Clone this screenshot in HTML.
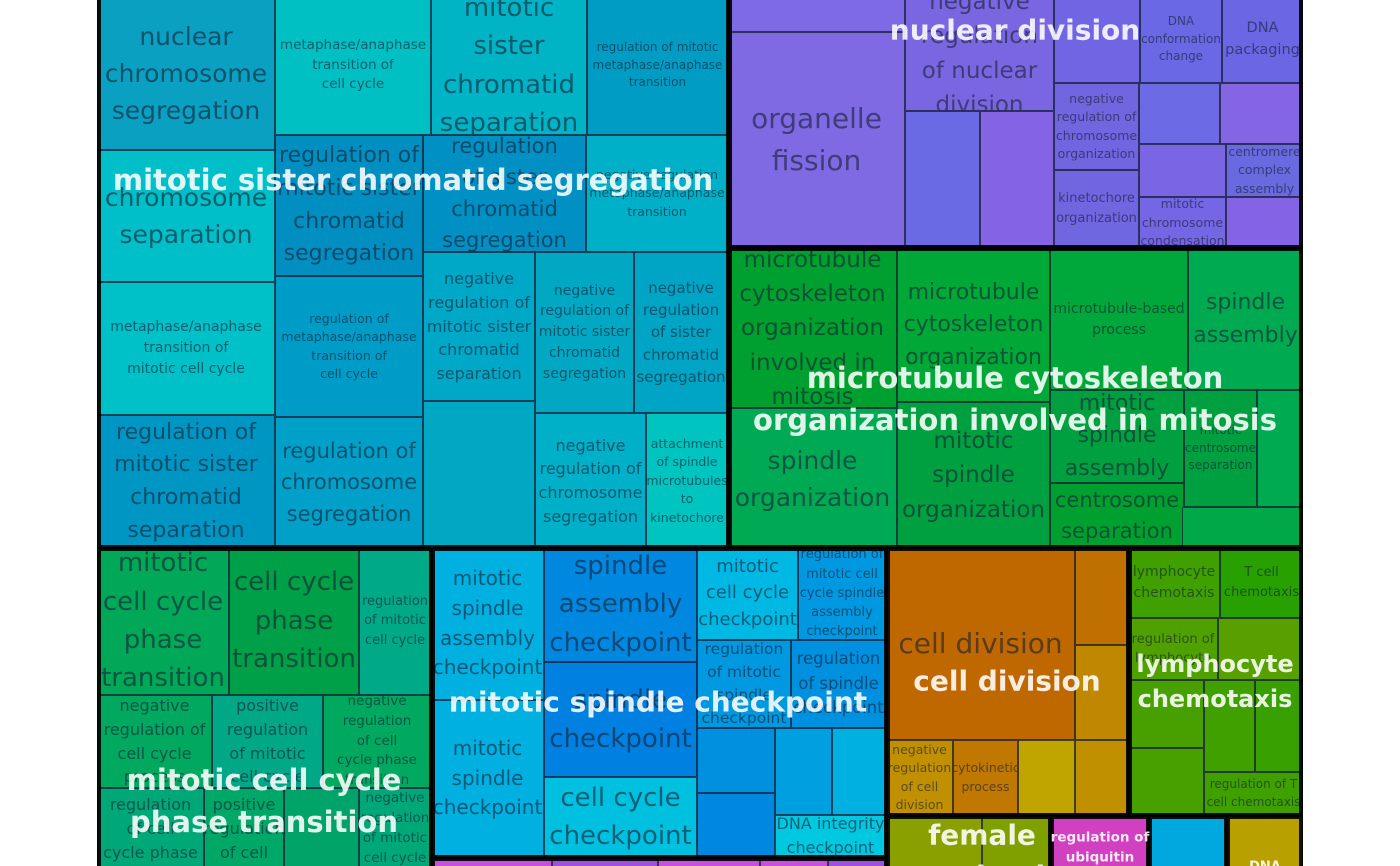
<!DOCTYPE html>
<html><head><meta charset="utf-8">
<style>
html,body{margin:0;padding:0;background:#fff;width:1400px;height:866px;overflow:hidden}
#tm{position:absolute;left:0;top:0;width:1400px;height:866px;overflow:hidden;font-family:"DejaVu Sans","Liberation Sans",sans-serif}
.t{position:absolute;box-sizing:border-box;border:1.5px solid rgba(20,30,50,0.75);display:flex;align-items:center;justify-content:center;text-align:center;color:rgba(20,30,50,0.6);line-height:1.48;white-space:nowrap;overflow:hidden}
.g{position:absolute;box-sizing:border-box;border:4px solid rgba(0,0,0,0.9);pointer-events:none}
.gl{position:absolute;transform:translate(-50%,-50%);color:rgba(255,255,255,0.88);font-weight:bold;text-align:center;white-space:nowrap;line-height:1.45}
</style></head><body>
<div id="tm"></div>
<script>
// tiles: x0,y0,x1,y1,color,fontSize,label
const tiles=[
[97,-4,275,150,"#0aa0c2",25,"nuclear|chromosome|segregation"],
[97,150,275,282,"#00bfc8",25,"chromosome|separation"],
[97,282,275,415,"#00c0c8",14,"metaphase/anaphase|transition of|mitotic cell cycle"],
[97,415,275,549,"#0096c4",22,"regulation of|mitotic sister|chromatid|separation"],
[275,-4,431,135,"#00c0c4",13.5,"metaphase/anaphase|transition of|cell cycle"],
[431,-4,587,135,"#00b4c6",26,"mitotic|sister|chromatid|separation"],
[587,-4,728,135,"#009cc4",12,"regulation of mitotic|metaphase/anaphase|transition"],
[275,135,423,276,"#008fc0",22,"regulation of|mitotic sister|chromatid|segregation"],
[423,135,586,252,"#0090c4",21,"regulation|of sister|chromatid|segregation"],
[586,135,728,252,"#00b0c8",12.5,"negative regulation|metaphase/anaphase|transition"],
[275,276,423,417,"#009cc8",12.5,"regulation of|metaphase/anaphase|transition of|cell cycle"],
[275,417,423,549,"#00a0c8",21,"regulation of|chromosome|segregation"],
[423,252,535,401,"#00a8c8",16,"negative|regulation of|mitotic sister|chromatid|separation"],
[423,401,535,549,"#00a8c4",14,""],
[535,252,634,413,"#00a8c4",14,"negative|regulation of|mitotic sister|chromatid|segregation"],
[634,252,728,413,"#00a4c4",15,"negative|regulation|of sister|chromatid|segregation"],
[535,413,646,549,"#00b0c8",16,"negative|regulation of|chromosome|segregation"],
[646,413,728,549,"#00c4c0",12.5,"attachment|of spindle|microtubules|to|kinetochore"],
[728,-4,905,32,"#7d6ae4",14,""],
[728,32,905,247,"#7f6ae4",28,"organelle|fission"],
[905,-4,1054,111,"#7a66e0",23,"negative|regulation|of nuclear|division"],
[905,111,980,247,"#6a6ae4",14,""],
[980,111,1054,247,"#8464e4",14,""],
[1054,-4,1140,83,"#7066e4",14,""],
[1140,-4,1222,83,"#6a68e4",12,"DNA|conformation|change"],
[1222,-4,1303,83,"#6a66e4",14.5,"DNA|packaging"],
[1054,83,1139,170,"#7066e0",12.5,"negative|regulation of|chromosome|organization"],
[1054,170,1139,247,"#7066e0",13,"kinetochore|organization"],
[1139,83,1220,144,"#6c6ae4",14,""],
[1220,83,1303,144,"#8466e4",14,""],
[1139,144,1226,197,"#7a66e4",14,""],
[1226,144,1303,197,"#6a6ae0",12.5,"centromere|complex|assembly"],
[1139,197,1226,249,"#7466e4",12.5,"mitotic|chromosome|condensation"],
[1226,197,1303,249,"#8464e4",14,""],
[728,249,897,408,"#00a030",23,"microtubule|cytoskeleton|organization|involved in|mitosis"],
[728,408,897,549,"#00aa55",25,"spindle|organization"],
[897,249,1050,402,"#00a838",22,"microtubule|cytoskeleton|organization"],
[1050,249,1188,390,"#00a83c",14,"microtubule-based|process"],
[1188,249,1303,390,"#00aa50",22,"spindle|assembly"],
[897,402,1050,549,"#00a040",23,"mitotic|spindle|organization"],
[1050,390,1184,483,"#00a040",22,"mitotic|spindle|assembly"],
[1184,390,1257,507,"#00a040",12,"mitotic|centrosome|separation"],
[1257,390,1303,507,"#00aa50",12,""],
[1050,483,1184,549,"#00a030",21,"centrosome|separation"],
[1182,507,1303,549,"#00a848",12,""],
[97,547,229,695,"#00a858",26,"mitotic|cell cycle|phase|transition"],
[229,547,359,695,"#00a048",26,"cell cycle|phase|transition"],
[359,547,431,695,"#00aa88",13,"regulation|of mitotic|cell cycle"],
[97,695,212,788,"#00a860",16,"negative|regulation of|cell cycle|process"],
[212,695,323,788,"#00a888",16,"positive|regulation|of mitotic|cell cycle"],
[323,695,431,788,"#00a860",13.5,"negative|regulation|of cell|cycle phase|transition"],
[97,788,204,870,"#00a878",16,"regulation|of cell|cycle phase"],
[204,788,284,870,"#00a868",16,"positive|regulation|of cell"],
[284,788,359,870,"#00a468",16,""],
[359,788,431,870,"#00a878",13.5,"negative|regulation|of mitotic|cell cycle"],
[431,547,544,700,"#00b0e0",20,"mitotic|spindle|assembly|checkpoint"],
[431,700,544,857,"#00b0e0",20,"mitotic|spindle|checkpoint"],
[544,547,697,662,"#0088e0",26,"spindle|assembly|checkpoint"],
[544,662,697,777,"#0080e0",26,"spindle|checkpoint"],
[544,777,697,857,"#00c0e0",26,"cell cycle|checkpoint"],
[697,547,798,640,"#00b8e4",18,"mitotic|cell cycle|checkpoint"],
[798,547,886,640,"#0098e0",13,"regulation of|mitotic cell|cycle spindle|assembly|checkpoint"],
[697,640,791,728,"#0098e0",15.5,"regulation|of mitotic|spindle|checkpoint"],
[791,640,886,728,"#0090e0",16.5,"regulation|of spindle|checkpoint"],
[697,728,775,793,"#0090e0",14,""],
[697,793,775,857,"#0088e0",14,""],
[775,728,832,815,"#00a0e0",14,""],
[832,728,886,815,"#00b0e0",14,""],
[775,815,886,857,"#00c8e0",16,"DNA integrity|checkpoint"],
[431,857,552,900,"#c850e0",16,"protein"],
[552,857,658,900,"#a050e0",16,""],
[658,857,760,900,"#c850e0",16,""],
[760,857,828,900,"#c850e0",16,""],
[828,857,886,900,"#a050e0",16,""],
[886,547,1075,740,"#c06800",28,"cell division"],
[1075,547,1128,645,"#c07000",14,""],
[1075,645,1128,740,"#c08800",14,""],
[886,740,953,815,"#c09000",12.5,"negative|regulation|of cell|division"],
[953,740,1018,815,"#c07800",12.5,"cytokinetic|process"],
[1018,740,1075,815,"#c0a400",12.5,""],
[1075,740,1128,815,"#c09000",12.5,""],
[1128,547,1220,618,"#40a000",14,"lymphocyte|chemotaxis"],
[1220,547,1303,618,"#28a000",13,"T cell|chemotaxis"],
[1128,618,1218,680,"#50a000",13,"regulation of|lymphocyte"],
[1218,618,1303,680,"#58a000",13,""],
[1128,680,1204,748,"#48a000",13,""],
[1204,680,1255,772,"#40a000",13,""],
[1255,680,1303,772,"#38a000",13,""],
[1128,748,1204,815,"#48a000",13,""],
[1204,772,1303,815,"#40a000",12,"regulation of T|cell chemotaxis"],
[886,815,982,900,"#8aa000",14,""],
[982,815,1050,900,"#80a000",14,""],
[1050,815,1148,900,"#d040c0",14,""],
[1148,815,1226,900,"#00a8e0",14,""],
[1226,815,1303,900,"#b8a000",14,""]
];
// groups: x0,y0,x1,y1
const groups=[
[97,-6,730,549],[728,-6,1303,249],[728,247,1303,549],[97,547,433,872],
[431,547,888,859],[431,857,888,900],[886,547,1130,817],[1128,547,1303,817],
[886,815,1052,900],[1050,815,1150,900],[1148,815,1228,900],[1226,815,1303,900]
];
// group labels: cx, cy, size, label
const glabels=[
[413,180,29,"mitotic sister chromatid segregation"],
[1015,31,28,"nuclear division"],
[1015,399,29,"microtubule cytoskeleton|organization involved in mitosis"],
[264,801,29,"mitotic cell cycle|phase transition"],
[658,703,28,"mitotic spindle checkpoint"],
[1007,682,28,"cell division"],
[1215,682,24,"lymphocyte|chemotaxis"],
[982,856,28,"female|reproduction"],
[1100,848,13.5,"regulation of|ubiquitin"],
[1265,868,13,"DNA"]
];
const tm=document.getElementById('tm');
function slug(s){return s.replace(/\|/g,' ').trim().toLowerCase().replace(/[^a-z0-9]+/g,'-').replace(/^-|-$/g,'')||'tile';}
tiles.forEach((d,i)=>{
  const el=document.createElement('div');
  el.className='t';
  el.style.left=d[0]+'px';el.style.top=d[1]+'px';
  el.style.width=(d[2]-d[0])+'px';el.style.height=(d[3]-d[1])+'px';
  el.style.background=d[4];el.style.fontSize=d[5]+'px';
  el.innerHTML=d[6].split('|').map(s=>s||'&nbsp;').join('<br>');
  
  
  tm.appendChild(el);
});
groups.forEach((d,i)=>{
  const el=document.createElement('div');
  el.className='g';
  el.style.left=d[0]+'px';el.style.top=d[1]+'px';
  el.style.width=(d[2]-d[0])+'px';el.style.height=(d[3]-d[1])+'px';
  
  
  tm.appendChild(el);
});
glabels.forEach(d=>{
  const el=document.createElement('div');
  el.className='gl';
  el.style.left=d[0]+'px';el.style.top=d[1]+'px';el.style.fontSize=d[2]+'px';
  el.innerHTML=d[3].split('|').join('<br>');
  
  
  tm.appendChild(el);
});
</script>
</body></html>
